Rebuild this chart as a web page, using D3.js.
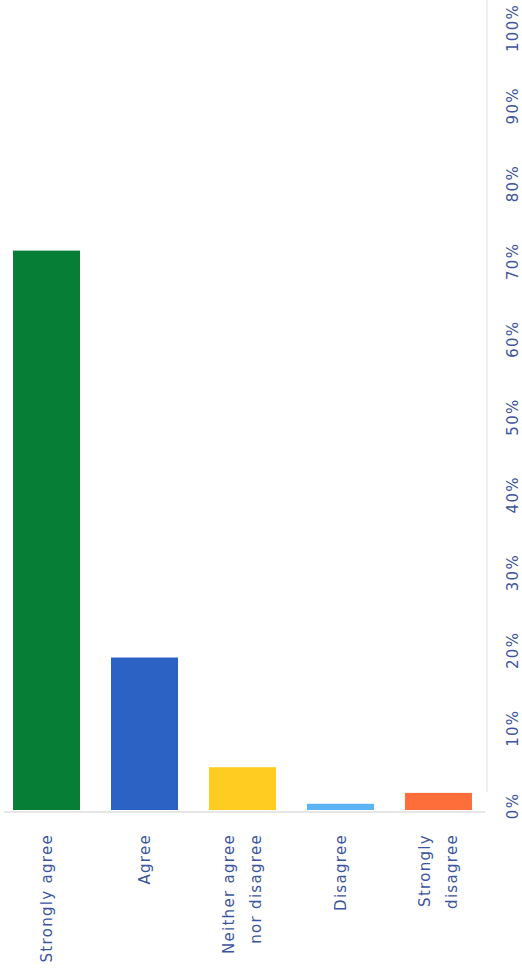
<!DOCTYPE html>
<html>
<head>
<meta charset="utf-8">
<script src="https://cdn.jsdelivr.net/npm/d3@7/dist/d3.min.js"></script>
<style>
  html, body { margin: 0; padding: 0; background: #ffffff; }
  svg { display: block; }
  text { font-family: "DejaVu Sans", sans-serif; font-size: 15px; fill: #3d55a0; letter-spacing: 1.3px; }
</style>
</head>
<body>
<svg id="chart" width="522" height="977"></svg>
<script>
const categories = ["Strongly agree", "Agree", "Neither agree nor disagree", "Disagree", "Strongly disagree"];
const categoryLines = [["Strongly agree"], ["Agree"], ["Neither agree", "nor disagree"], ["Disagree"], ["Strongly", "disagree"]];
const values = [71.9, 19.6, 5.5, 0.8, 2.2];
const colors = ["#067e36", "#2c62c4", "#ffcc22", "#5bb5f2", "#fd6e3b"];
const tickValues = [0, 10, 20, 30, 40, 50, 60, 70, 80, 90, 100];
const tickLabels = ["0%", "10%", "20%", "30%", "40%", "50%", "60%", "70%", "80%", "90%", "100%"];

const svg = d3.select("#chart");

const x = d3.scaleBand().domain(categories).range([0, 485]).paddingInner(0.316).paddingOuter(0.133);
const y = d3.scaleLinear().domain([0, 100]).range([810, 32]);

// faint right frame line
svg.append("line")
  .attr("x1", 487).attr("x2", 487).attr("y1", 0).attr("y2", 792)
  .attr("stroke", "#f0f0f0").attr("stroke-width", 2);

// bars
svg.selectAll("rect.bar").data(categories).enter().append("rect")
  .attr("class", "bar")
  .attr("x", d => x(d))
  .attr("width", x.bandwidth())
  .attr("y", (d, i) => y(values[i]))
  .attr("height", (d, i) => y(0) - y(values[i]))
  .attr("fill", (d, i) => colors[i]);

// baseline
svg.append("line")
  .attr("x1", 4).attr("x2", 485).attr("y1", y(0) + 2).attr("y2", y(0) + 2)
  .attr("stroke", "#e6e6e6").attr("stroke-width", 2);

// value axis labels (rotated)
svg.selectAll("text.tick").data(tickValues).enter().append("text")
  .attr("class", "tick")
  .attr("text-anchor", "middle")
  .attr("transform", d => `translate(518,${y(d) - 4}) rotate(-90)`)
  .text((d, i) => tickLabels[i]);

// category labels (rotated)
const cat = svg.selectAll("g.cat").data(categories).enter().append("g")
  .attr("class", "cat")
  .attr("transform", d => `translate(${x(d) + x.bandwidth() / 2},834) rotate(-90)`);
cat.each(function(d, i) {
  const lines = categoryLines[i];
  const g = d3.select(this);
  const n = lines.length;
  lines.forEach((ln, j) => {
    g.append("text")
      .attr("text-anchor", "end")
      .attr("x", 0)
      .attr("y", (j - (n - 1) / 2) * 27)
      .attr("dy", "0.35em")
      .text(ln);
  });
});
</script>
</body>
</html>
